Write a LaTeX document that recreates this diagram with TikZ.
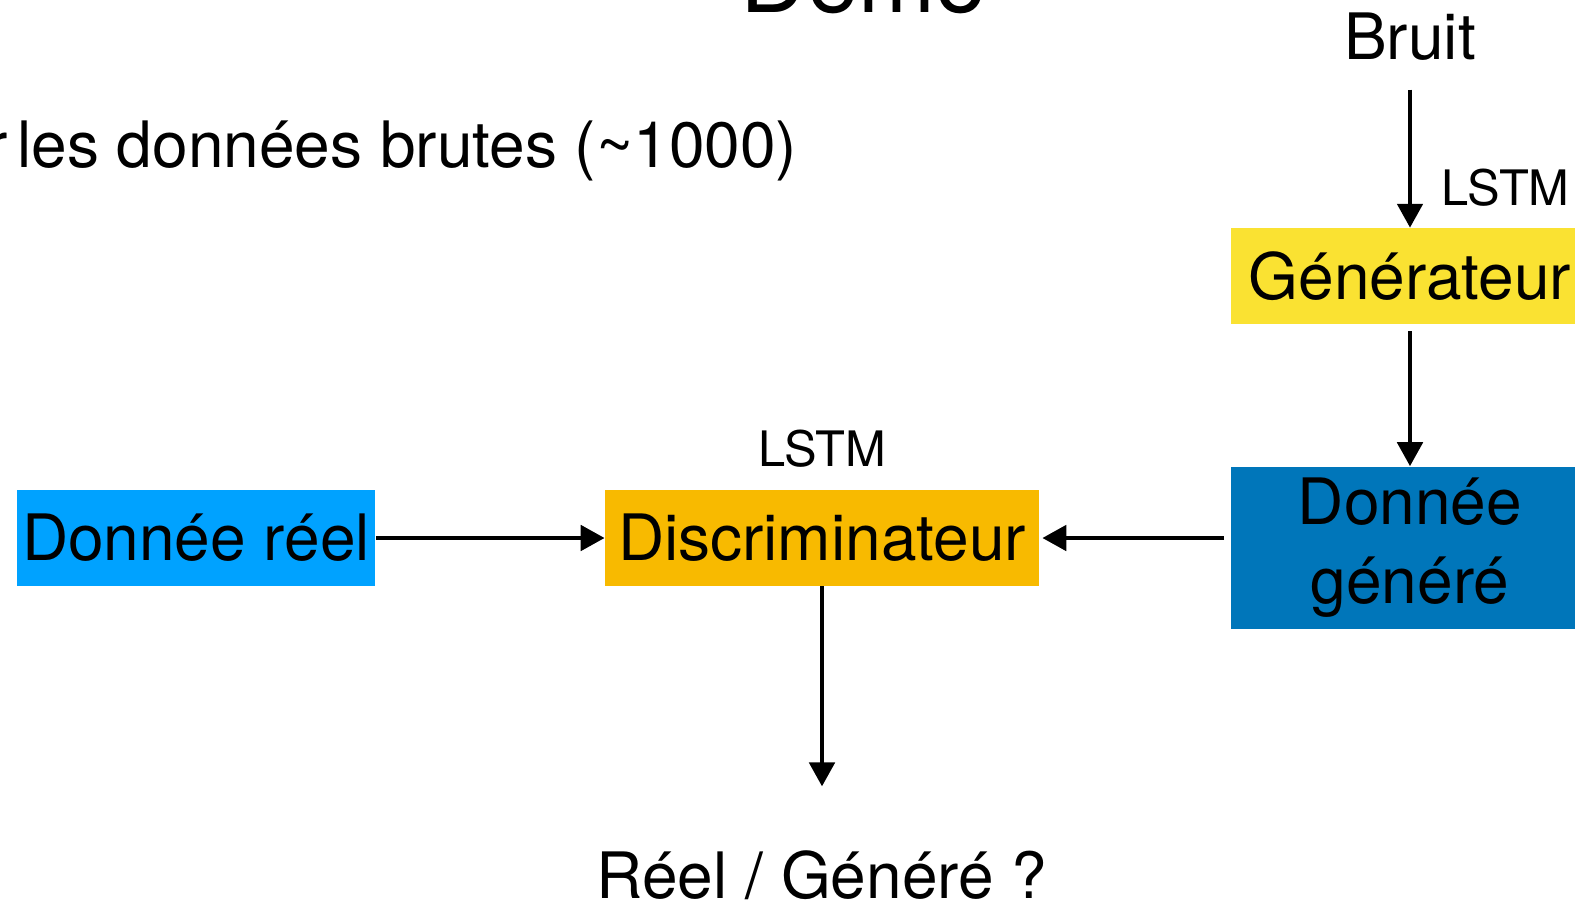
\documentclass[tikz,border=0pt]{standalone}
\usepackage{fontspec}
\setmainfont{TeX Gyre Heros}
\usetikzlibrary{arrows.meta,positioning}

\definecolor{reelblue}{HTML}{00A2FF}
\definecolor{genblue}{HTML}{0076BA}
\definecolor{discyellow}{HTML}{F8BA00}
\definecolor{genyellow}{HTML}{FAE232}

\newcommand{\boxfont}{\fontsize{18.2}{22.5}\selectfont}
\newcommand{\lstmfont}{\fontsize{13.9}{16}\selectfont}
\newcommand{\titlefont}{\fontsize{26.3}{30}\selectfont}

\tikzset{
  box/.style={fill=#1, inner sep=0pt, minimum height=0.95cm, font=\boxfont},
  plain/.style={inner sep=0pt, font=\boxfont},
  flow/.style={->, line width=1.4pt},
}

\begin{document}
\begin{tikzpicture}[x=0.01cm, y=-0.01cm, >={Triangle[length=0.24cm,width=0.25cm]}]
  \useasboundingbox (0,0) rectangle (1575,900);
  \clip (0,0) rectangle (1575,900);

  % blocs
  \node[box=reelblue, minimum width=3.58cm] (reel) at (196,538) {Donnée réel};
  \node[box=discyellow, minimum width=4.33cm] (disc) at (822,538) {Discriminateur};
  \node[box=genyellow, minimum width=3.58cm] (gen) at (1410,276) {Générateur};
  \node[box=genblue, minimum width=3.58cm, minimum height=1.62cm, align=center] (genere) at (1410,548) {Donnée\\généré};

  % textes
  \node[plain, font=\titlefont, anchor=base] (titre) at (864,12) {Démo};
  \node[plain, anchor=base east] (brutes) at (798,167) {r\kern-.13em\ les données brutes (\textasciitilde1000)};
  \node[plain, anchor=base] (bruit) at (1410,60) {Bruit};
  \node[plain, font=\lstmfont, above=0.22cm of disc] (lstmd) {LSTM};
  \node[plain, font=\lstmfont, above right=0.21cm and 0.31cm of gen.north] (lstmg) {LSTM};
  \node[plain, anchor=base] (question) at (822,898) {Réel / Généré ?};

  % fleches
  \draw[flow, shorten <=0.28cm] (bruit) -- (gen);
  \draw[flow, shorten <=0.07cm] (gen) -- (genere);
  \draw[flow, shorten <=0.06cm, shorten >=0.03cm] (genere.west |- disc.east) -- (disc.east);
  \draw[flow] (reel) -- (disc);
  \draw[flow, shorten >=0.63cm] (disc) -- (question);
\end{tikzpicture}
\end{document}
